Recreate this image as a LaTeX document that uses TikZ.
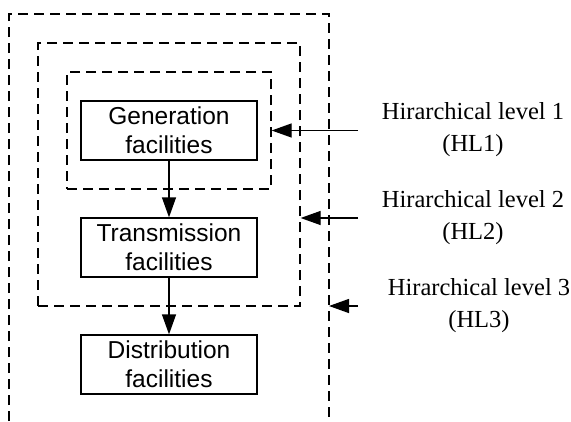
\documentclass[tikz,border=0pt]{standalone}
\usepackage{fontspec}
\setmainfont{Liberation Serif}
\newfontfamily\boxfont{Liberation Sans}
\usetikzlibrary{arrows.meta,calc}
\begin{document}
\begin{tikzpicture}[x=1pt,y=-1pt,
  level/.style={draw,dashed,dash pattern=on 10pt off 6pt,line width=1.3pt},
  facility/.style={draw,line width=1.3pt,minimum width=176pt,minimum height=59pt,
    align=center,font=\boxfont\fontsize{24.5}{29}\selectfont,inner sep=0pt},
  flow/.style={line width=1.3pt,-{Triangle[length=20pt,width=14pt]}},
  lbl/.style={align=center,font=\fontsize{24.5}{32}\selectfont,inner sep=0pt}]
\useasboundingbox (0,0) rectangle (571,421);
% nested hierarchical levels
\node[level,minimum width=204pt,minimum height=117pt,inner sep=0pt] (hl1box) at (169,130.5) {};
\node[level,minimum width=262pt,minimum height=263pt,inner sep=0pt] (hl2box) at (169,174.5) {};
\coordinate (o1) at (9,421);
\coordinate (o2) at (9,14);
\coordinate (o3) at (329,14);
\coordinate (o4) at (329,421);
\draw[level] (o1) -- (o2) -- (o3) -- (o4);
% facilities
\node[facility] (gen) at (169,130.5) {Generation\\facilities};
\node[facility] (tra) at (169,247.5) {Transmission\\facilities};
\node[facility] (dis) at (169,364.5) {Distribution\\facilities};
\draw[flow] (gen) -- (tra);
\draw[flow] (tra) -- (dis);
% level labels
\node[lbl] (l1) at (473,130) {Hirarchical level 1\\(HL1)};
\node[lbl] (l2) at (473,218) {Hirarchical level 2\\(HL2)};
\node[lbl] (l3) at (479,306) {Hirarchical level 3\\(HL3)};
\coordinate (a1) at (358,130.5);
\coordinate (a2) at (358,218);
\coordinate (a3) at (358,306);
\draw[flow] (a1) -- (hl1box.east);
\draw[flow] (a2) -- (a2 -| hl2box.east);
\draw[flow] (a3) -- (a3 -| o3);
\end{tikzpicture}
\end{document}
